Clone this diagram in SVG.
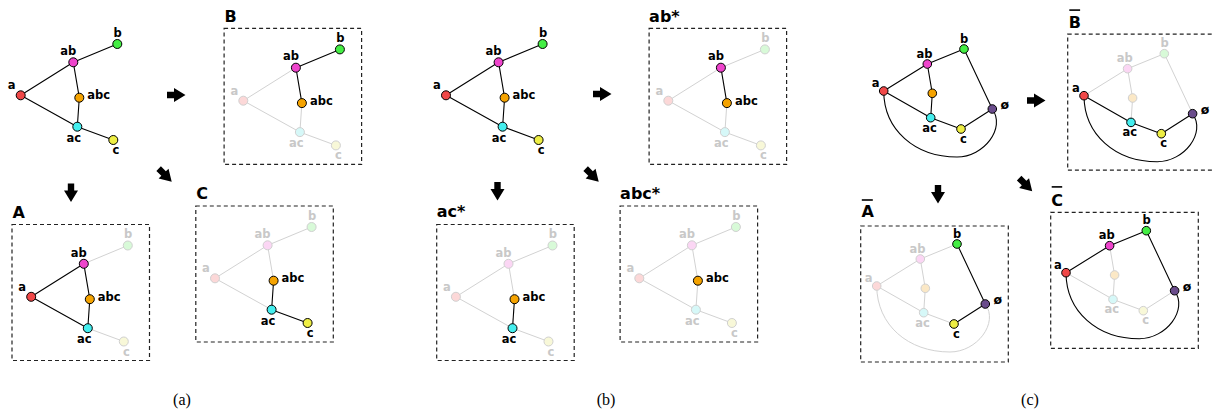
<svg xmlns="http://www.w3.org/2000/svg" xmlns:xlink="http://www.w3.org/1999/xlink" width="1212" height="415" viewBox="0 0 1212 415">
<style>
.e{stroke:#000;stroke-width:1.1;fill:none}
.g{stroke:#d2d2d2;stroke-width:1;fill:none}
.n{stroke:#000;stroke-width:1}
.gn{stroke:#d0d0d0;stroke-width:1}
.l{font-family:"DejaVu Sans",sans-serif;font-weight:bold;font-size:11.5px;fill:#000}
.gl{font-family:"DejaVu Sans",sans-serif;font-weight:bold;font-size:11.5px;fill:#c8c8c8}
.m{text-anchor:middle}
.box{fill:none;stroke:#222;stroke-width:1.2;stroke-dasharray:4 3}
.t{font-family:"DejaVu Sans",sans-serif;font-weight:bold;font-size:16px;fill:#000}
.cap{font-family:"Liberation Serif",serif;font-size:16px;fill:#000;text-anchor:middle}
.arr{fill:#000}
.ca{fill:#f04848}.cab{fill:#ee44cc}.cb{fill:#44ee44}.cabc{fill:#f5a300}.cac{fill:#44eeee}.cc{fill:#eeee44}.c0{fill:#6a4c8c}
.ga{fill:#fcd8d8}.gab{fill:#fbd6f4}.gb{fill:#d8fad8}.gabc{fill:#fbe8c6}.gac{fill:#d6f8f8}.gc{fill:#f8f8d8}
</style>
<defs>
<polygon id="arrow" points="-9,-3.2 -2,-3.2 -2,-7 9.5,0 -2,7 -2,3.2 -9,3.2"/>
</defs>

<g id="arrows" class="arr">
<use xlink:href="#arrow" transform="translate(176,95)"/>
<use xlink:href="#arrow" transform="translate(71,192.5) rotate(90)"/>
<use xlink:href="#arrow" transform="translate(165,175) rotate(45)"/>
<use xlink:href="#arrow" transform="translate(602,94)"/>
<use xlink:href="#arrow" transform="translate(497.5,191) rotate(90)"/>
<use xlink:href="#arrow" transform="translate(592,175) rotate(45)"/>
<use xlink:href="#arrow" transform="translate(1036,100.5)"/>
<use xlink:href="#arrow" transform="translate(938,194) rotate(90)"/>
<use xlink:href="#arrow" transform="translate(1025.5,184.5) rotate(45)"/>
</g>

<!-- Panel (a) main -->
<g id="pa-main">
<g id="pa-main-edges">
<path class="e" d="M20.7 95.3L73.3 62.3M73.3 62.3L117.3 44M73.3 62.3L79.3 97.7M79.3 97.7L77.3 126.7M20.7 95.3L77.3 126.7M77.3 126.7L113.3 140"/>
</g>
<g id="pa-main-a"><circle class="n ca" cx="20.7" cy="95.3" r="4.5"/><text class="l m" x="11.7" y="89.3">a</text></g>
<g id="pa-main-ab"><circle class="n cab" cx="73.3" cy="62.3" r="4.5"/><text class="l m" x="68.3" y="55">ab</text></g>
<g id="pa-main-b"><circle class="n cb" cx="117.3" cy="44" r="4.5"/><text class="l m" x="117.7" y="36.7">b</text></g>
<g id="pa-main-abc"><circle class="n cabc" cx="79.3" cy="97.7" r="4.5"/><text class="l" x="87.3" y="99.3">abc</text></g>
<g id="pa-main-ac"><circle class="n cac" cx="77.3" cy="126.7" r="4.5"/><text class="l m" x="73.8" y="141.7">ac</text></g>
<g id="pa-main-c"><circle class="n cc" cx="113.3" cy="140" r="4.5"/><text class="l m" x="115.8" y="154">c</text></g>
</g>

<!-- Panel (a) B -->
<g id="pa-B" transform="translate(222.6,5.4)">
<rect class="box" x="1.5" y="23" width="137.5" height="136"/>
<text class="t" x="2" y="16.3">B</text>
<g id="pa-B-edges">
<path class="g" d="M20.7 95.3L73.3 62.3M79.3 97.7L77.3 126.7M20.7 95.3L77.3 126.7M77.3 126.7L113.3 140"/>
<path class="e" d="M73.3 62.3L117.3 44M73.3 62.3L79.3 97.7"/>
</g>
<g id="pa-B-a"><circle class="gn ga" cx="20.7" cy="95.3" r="4.5"/><text class="gl m" x="11.7" y="89.3">a</text></g>
<g id="pa-B-ab"><circle class="n cab" cx="73.3" cy="62.3" r="4.5"/><text class="l m" x="68.3" y="55">ab</text></g>
<g id="pa-B-b"><circle class="n cb" cx="117.3" cy="44" r="4.5"/><text class="l m" x="117.7" y="36.7">b</text></g>
<g id="pa-B-abc"><circle class="n cabc" cx="79.3" cy="97.7" r="4.5"/><text class="l" x="87.3" y="99.3">abc</text></g>
<g id="pa-B-ac"><circle class="gn gac" cx="77.3" cy="126.7" r="4.5"/><text class="gl m" x="73.8" y="141.7">ac</text></g>
<g id="pa-B-c"><circle class="gn gc" cx="113.3" cy="140" r="4.5"/><text class="gl m" x="115.8" y="154">c</text></g>
</g>

<!-- Panel (a) A -->
<g id="pa-A" transform="translate(10.5,201.5)">
<rect class="box" x="1.5" y="23" width="137.5" height="136"/>
<text class="t" x="2" y="16">A</text>
<g id="pa-A-edges">
<path class="g" d="M73.3 62.3L117.3 44M77.3 126.7L113.3 140"/>
<path class="e" d="M20.7 95.3L73.3 62.3M73.3 62.3L79.3 97.7M79.3 97.7L77.3 126.7M20.7 95.3L77.3 126.7"/>
</g>
<g id="pa-A-a"><circle class="n ca" cx="20.7" cy="95.3" r="4.5"/><text class="l m" x="11.7" y="89.3">a</text></g>
<g id="pa-A-ab"><circle class="n cab" cx="73.3" cy="62.3" r="4.5"/><text class="l m" x="68.3" y="55">ab</text></g>
<g id="pa-A-b"><circle class="gn gb" cx="117.3" cy="44" r="4.5"/><text class="gl m" x="117.7" y="36.7">b</text></g>
<g id="pa-A-abc"><circle class="n cabc" cx="79.3" cy="97.7" r="4.5"/><text class="l" x="87.3" y="99.3">abc</text></g>
<g id="pa-A-ac"><circle class="n cac" cx="77.3" cy="126.7" r="4.5"/><text class="l m" x="73.8" y="141.7">ac</text></g>
<g id="pa-A-c"><circle class="gn gc" cx="113.3" cy="140" r="4.5"/><text class="gl m" x="115.8" y="154">c</text></g>
</g>

<!-- Panel (a) C -->
<g id="pa-C" transform="translate(194.3,183)">
<rect class="box" x="1.5" y="23" width="137.5" height="136"/>
<text class="t" x="2" y="16.3">C</text>
<g id="pa-C-edges">
<path class="g" d="M20.7 95.3L73.3 62.3M73.3 62.3L117.3 44M73.3 62.3L79.3 97.7M20.7 95.3L77.3 126.7"/>
<path class="e" d="M79.3 97.7L77.3 126.7M77.3 126.7L113.3 140"/>
</g>
<g id="pa-C-a"><circle class="gn ga" cx="20.7" cy="95.3" r="4.5"/><text class="gl m" x="11.7" y="89.3">a</text></g>
<g id="pa-C-ab"><circle class="gn gab" cx="73.3" cy="62.3" r="4.5"/><text class="gl m" x="68.3" y="55">ab</text></g>
<g id="pa-C-b"><circle class="gn gb" cx="117.3" cy="44" r="4.5"/><text class="gl m" x="117.7" y="36.7">b</text></g>
<g id="pa-C-abc"><circle class="n cabc" cx="79.3" cy="97.7" r="4.5"/><text class="l" x="87.3" y="99.3">abc</text></g>
<g id="pa-C-ac"><circle class="n cac" cx="77.3" cy="126.7" r="4.5"/><text class="l m" x="73.8" y="141.7">ac</text></g>
<g id="pa-C-c"><circle class="n cc" cx="113.3" cy="140" r="4.5"/><text class="l m" x="115.8" y="154">c</text></g>
</g>

<!-- Panel (b) main -->
<g id="pb-main" transform="translate(425.3,0)">
<g id="pb-main-edges">
<path class="e" d="M20.7 95.3L73.3 62.3M73.3 62.3L117.3 44M73.3 62.3L79.3 97.7M79.3 97.7L77.3 126.7M20.7 95.3L77.3 126.7M77.3 126.7L113.3 140"/>
</g>
<g id="pb-main-a"><circle class="n ca" cx="20.7" cy="95.3" r="4.5"/><text class="l m" x="11.7" y="89.3">a</text></g>
<g id="pb-main-ab"><circle class="n cab" cx="73.3" cy="62.3" r="4.5"/><text class="l m" x="68.3" y="55">ab</text></g>
<g id="pb-main-b"><circle class="n cb" cx="117.3" cy="44" r="4.5"/><text class="l m" x="117.7" y="36.7">b</text></g>
<g id="pb-main-abc"><circle class="n cabc" cx="79.3" cy="97.7" r="4.5"/><text class="l" x="87.3" y="99.3">abc</text></g>
<g id="pb-main-ac"><circle class="n cac" cx="77.3" cy="126.7" r="4.5"/><text class="l m" x="73.8" y="141.7">ac</text></g>
<g id="pb-main-c"><circle class="n cc" cx="113.3" cy="140" r="4.5"/><text class="l m" x="115.8" y="154">c</text></g>
</g>

<!-- Panel (b) ab* -->
<g id="pb-ab" transform="translate(647.6,5.4)">
<rect class="box" x="1.5" y="23" width="137.5" height="136"/>
<text class="t" x="1.5" y="16.3">ab*</text>
<g id="pb-ab-edges">
<path class="g" d="M20.7 95.3L73.3 62.3M73.3 62.3L117.3 44M79.3 97.7L77.3 126.7M20.7 95.3L77.3 126.7M77.3 126.7L113.3 140"/>
<path class="e" d="M73.3 62.3L79.3 97.7"/>
</g>
<g id="pb-ab-a"><circle class="gn ga" cx="20.7" cy="95.3" r="4.5"/><text class="gl m" x="11.7" y="89.3">a</text></g>
<g id="pb-ab-ab"><circle class="n cab" cx="73.3" cy="62.3" r="4.5"/><text class="l m" x="68.3" y="55">ab</text></g>
<g id="pb-ab-b"><circle class="gn gb" cx="117.3" cy="44" r="4.5"/><text class="gl m" x="117.7" y="36.7">b</text></g>
<g id="pb-ab-abc"><circle class="n cabc" cx="79.3" cy="97.7" r="4.5"/><text class="l" x="87.3" y="99.3">abc</text></g>
<g id="pb-ab-ac"><circle class="gn gac" cx="77.3" cy="126.7" r="4.5"/><text class="gl m" x="73.8" y="141.7">ac</text></g>
<g id="pb-ab-c"><circle class="gn gc" cx="113.3" cy="140" r="4.5"/><text class="gl m" x="115.8" y="154">c</text></g>
</g>

<!-- Panel (b) ac* -->
<g id="pb-ac" transform="translate(435.2,201.5)">
<rect class="box" x="1.5" y="23" width="137.5" height="136"/>
<text class="t" x="1.5" y="15.3">ac*</text>
<g id="pb-ac-edges">
<path class="g" d="M20.7 95.3L73.3 62.3M73.3 62.3L117.3 44M73.3 62.3L79.3 97.7M20.7 95.3L77.3 126.7M77.3 126.7L113.3 140"/>
<path class="e" d="M79.3 97.7L77.3 126.7"/>
</g>
<g id="pb-ac-a"><circle class="gn ga" cx="20.7" cy="95.3" r="4.5"/><text class="gl m" x="11.7" y="89.3">a</text></g>
<g id="pb-ac-ab"><circle class="gn gab" cx="73.3" cy="62.3" r="4.5"/><text class="gl m" x="68.3" y="55">ab</text></g>
<g id="pb-ac-b"><circle class="gn gb" cx="117.3" cy="44" r="4.5"/><text class="gl m" x="117.7" y="36.7">b</text></g>
<g id="pb-ac-abc"><circle class="n cabc" cx="79.3" cy="97.7" r="4.5"/><text class="l" x="87.3" y="99.3">abc</text></g>
<g id="pb-ac-ac"><circle class="n cac" cx="77.3" cy="126.7" r="4.5"/><text class="l m" x="73.8" y="141.7">ac</text></g>
<g id="pb-ac-c"><circle class="gn gc" cx="113.3" cy="140" r="4.5"/><text class="gl m" x="115.8" y="154">c</text></g>
</g>

<!-- Panel (b) abc* -->
<g id="pb-abc" transform="translate(618.6,183)">
<rect class="box" x="1.5" y="23" width="137.5" height="136"/>
<text class="t" x="1.5" y="16.3">abc*</text>
<g id="pb-abc-edges">
<path class="g" d="M20.7 95.3L73.3 62.3M73.3 62.3L117.3 44M73.3 62.3L79.3 97.7M79.3 97.7L77.3 126.7M20.7 95.3L77.3 126.7M77.3 126.7L113.3 140"/>
</g>
<g id="pb-abc-a"><circle class="gn ga" cx="20.7" cy="95.3" r="4.5"/><text class="gl m" x="11.7" y="89.3">a</text></g>
<g id="pb-abc-ab"><circle class="gn gab" cx="73.3" cy="62.3" r="4.5"/><text class="gl m" x="68.3" y="55">ab</text></g>
<g id="pb-abc-b"><circle class="gn gb" cx="117.3" cy="44" r="4.5"/><text class="gl m" x="117.7" y="36.7">b</text></g>
<g id="pb-abc-abc"><circle class="n cabc" cx="79.3" cy="97.7" r="4.5"/><text class="l" x="87.3" y="99.3">abc</text></g>
<g id="pb-abc-ac"><circle class="gn gac" cx="77.3" cy="126.7" r="4.5"/><text class="gl m" x="73.8" y="141.7">ac</text></g>
<g id="pb-abc-c"><circle class="gn gc" cx="113.3" cy="140" r="4.5"/><text class="gl m" x="115.8" y="154">c</text></g>
</g>

<!-- Panel (c) main -->
<g id="pc-main">
<g id="pc-main-edges">
<path class="e" d="M883.7 91L927.3 64M927.3 64L964 49M927.3 64L932.3 93.3M932.3 93.3L930.7 117.7M883.7 91L930.7 117.7M930.7 117.7L961 129M961 129L992.3 109M964 49L992.3 109"/>
<path class="e" d="M883.7 91C884 130 915 157 957 157C984 157 1006 128 992.3 109"/>
</g>
<g id="pc-main-a"><circle class="n ca" cx="883.7" cy="91" r="4.3"/><text class="l m" x="875.7" y="87.3">a</text></g>
<g id="pc-main-ab"><circle class="n cab" cx="927.3" cy="64" r="4.3"/><text class="l m" x="924.5" y="57.7">ab</text></g>
<g id="pc-main-b"><circle class="n cb" cx="964" cy="49" r="4.3"/><text class="l m" x="964.2" y="42.7">b</text></g>
<g id="pc-main-abc"><circle class="n cabc" cx="932.3" cy="93.3" r="4.3"/></g>
<g id="pc-main-ac"><circle class="n cac" cx="930.7" cy="117.7" r="4.3"/><text class="l m" x="929.5" y="131.7">ac</text></g>
<g id="pc-main-c"><circle class="n cc" cx="961" cy="129" r="4.3"/><text class="l m" x="963.3" y="142.7">c</text></g>
<g id="pc-main-empty"><circle class="n c0" cx="992.3" cy="109" r="4.3"/><text class="l" x="1000.5" y="109.3" style="font-size:12.5px">ø</text></g>
</g>

<!-- Panel (c) B-bar -->
<g id="pc-B" transform="translate(200.3,4.7)">
<rect class="box" x="867.4" y="29.5" width="147.6" height="136"/>
<text class="t" x="868.5" y="23.6">B</text><rect x="869" y="4.6" width="10.8" height="1.6"/>
<g id="pc-B-edges">
<path class="g" d="M883.7 91L927.3 64M927.3 64L964 49M927.3 64L932.3 93.3M932.3 93.3L930.7 117.7M964 49L992.3 109"/>
<path class="e" d="M883.7 91L930.7 117.7M930.7 117.7L961 129M961 129L992.3 109"/>
<path class="e" d="M883.7 91C884 130 915 157 957 157C984 157 1006 128 992.3 109"/>
</g>
<g id="pc-B-a"><circle class="n ca" cx="883.7" cy="91" r="4.3"/><text class="l m" x="875.7" y="87.3">a</text></g>
<g id="pc-B-ab"><circle class="gn gab" cx="927.3" cy="64" r="4.3"/><text class="gl m" x="924.5" y="57.7">ab</text></g>
<g id="pc-B-b"><circle class="gn gb" cx="964" cy="49" r="4.3"/><text class="gl m" x="964.2" y="42.7">b</text></g>
<g id="pc-B-abc"><circle class="gn gabc" cx="932.3" cy="93.3" r="4.3"/></g>
<g id="pc-B-ac"><circle class="n cac" cx="930.7" cy="117.7" r="4.3"/><text class="l m" x="929.5" y="131.7">ac</text></g>
<g id="pc-B-c"><circle class="n cc" cx="961" cy="129" r="4.3"/><text class="l m" x="963.3" y="142.7">c</text></g>
<g id="pc-B-empty"><circle class="n c0" cx="992.3" cy="109" r="4.3"/><text class="l" x="1000.5" y="109.3" style="font-size:12.5px">ø</text></g>
</g>

<!-- Panel (c) A-bar -->
<g id="pc-A" transform="translate(-7,195)">
<rect class="box" x="867.7" y="31" width="147.6" height="136"/>
<text class="t" x="868.5" y="22">A</text><rect x="868.8" y="4.2" width="11" height="1.6"/>
<g id="pc-A-edges">
<path class="g" d="M883.7 91L927.3 64M927.3 64L964 49M927.3 64L932.3 93.3M932.3 93.3L930.7 117.7M883.7 91L930.7 117.7M930.7 117.7L961 129"/>
<path class="g" d="M883.7 91C884 130 915 157 957 157C984 157 1006 128 992.3 109"/>
<path class="e" d="M961 129L992.3 109M964 49L992.3 109"/>
</g>
<g id="pc-A-a"><circle class="gn ga" cx="883.7" cy="91" r="4.3"/><text class="gl m" x="875.7" y="87.3">a</text></g>
<g id="pc-A-ab"><circle class="gn gab" cx="927.3" cy="64" r="4.3"/><text class="gl m" x="924.5" y="57.7">ab</text></g>
<g id="pc-A-b"><circle class="n cb" cx="964" cy="49" r="4.3"/><text class="l m" x="964.2" y="42.7">b</text></g>
<g id="pc-A-abc"><circle class="gn gabc" cx="932.3" cy="93.3" r="4.3"/></g>
<g id="pc-A-ac"><circle class="gn gac" cx="930.7" cy="117.7" r="4.3"/><text class="gl m" x="929.5" y="131.7">ac</text></g>
<g id="pc-A-c"><circle class="n cc" cx="961" cy="129" r="4.3"/><text class="l m" x="963.3" y="142.7">c</text></g>
<g id="pc-A-empty"><circle class="n c0" cx="992.3" cy="109" r="4.3"/><text class="l" x="1000.5" y="109.3" style="font-size:12.5px">ø</text></g>
</g>

<!-- Panel (c) C-bar -->
<g id="pc-C" transform="translate(182.3,181.7)">
<rect class="box" x="868.4" y="30.6" width="147.6" height="136"/>
<text class="t" x="869" y="24">C</text><rect x="869.4" y="4.4" width="10.5" height="1.6"/>
<g id="pc-C-edges">
<path class="g" d="M927.3 64L932.3 93.3M932.3 93.3L930.7 117.7M883.7 91L930.7 117.7M930.7 117.7L961 129M961 129L992.3 109"/>
<path class="e" d="M883.7 91L927.3 64M927.3 64L964 49M964 49L992.3 109"/>
<path class="e" d="M883.7 91C884 130 915 157 957 157C984 157 1006 128 992.3 109"/>
</g>
<g id="pc-C-a"><circle class="n ca" cx="883.7" cy="91" r="4.3"/><text class="l m" x="875.7" y="87.3">a</text></g>
<g id="pc-C-ab"><circle class="n cab" cx="927.3" cy="64" r="4.3"/><text class="l m" x="924.5" y="57.7">ab</text></g>
<g id="pc-C-b"><circle class="n cb" cx="964" cy="49" r="4.3"/><text class="l m" x="964.2" y="42.7">b</text></g>
<g id="pc-C-abc"><circle class="gn gabc" cx="932.3" cy="93.3" r="4.3"/></g>
<g id="pc-C-ac"><circle class="gn gac" cx="930.7" cy="117.7" r="4.3"/><text class="gl m" x="929.5" y="131.7">ac</text></g>
<g id="pc-C-c"><circle class="gn gc" cx="961" cy="129" r="4.3"/><text class="gl m" x="963.3" y="142.7">c</text></g>
<g id="pc-C-empty"><circle class="n c0" cx="992.3" cy="109" r="4.3"/><text class="l" x="1000.5" y="109.3" style="font-size:12.5px">ø</text></g>
</g>

<g id="captions">
<text class="cap" x="182" y="405">(a)</text>
<text class="cap" x="606" y="405">(b)</text>
<text class="cap" x="1030" y="405">(c)</text>
</g>
</svg>
